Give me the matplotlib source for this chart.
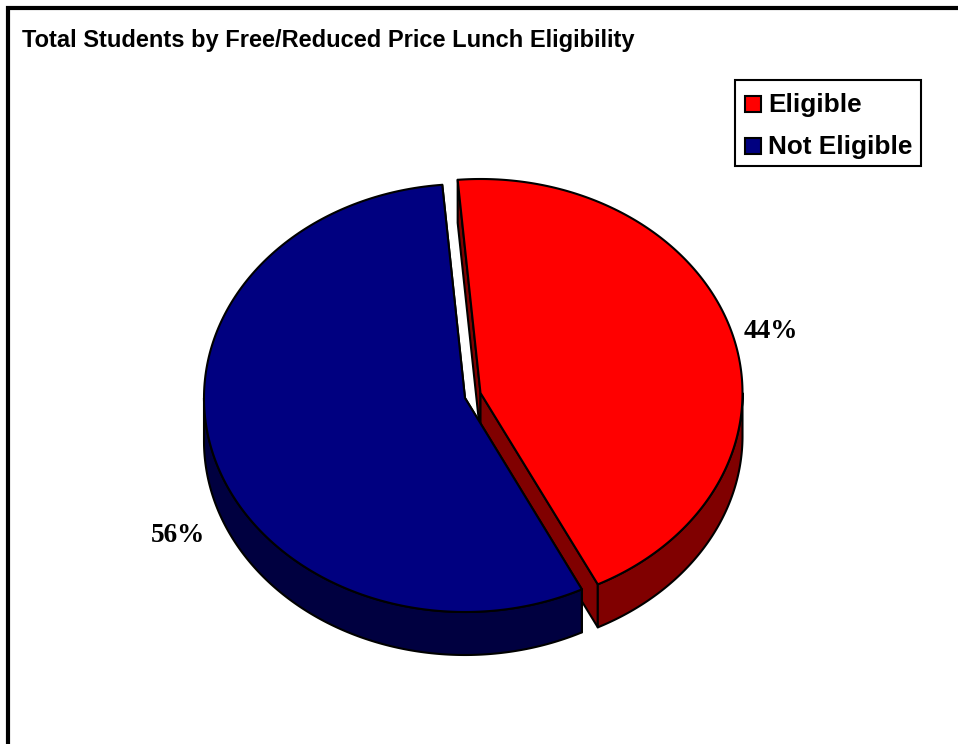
import numpy as np
import matplotlib
matplotlib.use("Agg")
import matplotlib.pyplot as plt
from matplotlib.patches import Polygon, Rectangle

title = "Total Students by Free/Reduced Price Lunch Eligibility"
categories = ["Eligible", "Not Eligible"]
shares = [44, 56]
pct_labels = ["44%", "56%"]
top_colors = ["#ff0000", "#000080"]
side_colors = ["#800000", "#000040"]

# pie layout, in pixels of the picture
centers = [(480.5, 393), (465, 398)]
radii_x = [262, 261]
ry = 214
depth = 43
start_angle = -5


def ellipse_pts(cx, cy, rx, a0, a1):
    t = np.radians(np.linspace(a0, a1, 200))
    return np.column_stack([cx + rx * np.sin(t), cy - ry * np.cos(t)])


fig = plt.figure(figsize=(9.58, 7.44), dpi=100)
ax = fig.add_axes([0, 0, 1, 1])
ax.set_xlim(0, 958)
ax.set_ylim(744, 0)
ax.axis("off")

# outer frame, only left and top edges are in the picture
ax.plot([8, 8, 970], [760, 8, 8], color="black", lw=3.0, solid_joinstyle="miter")

stroke = dict(edgecolor="black", lw=1.5, joinstyle="round")

# angles from the values
total = sum(shares)
a0 = start_angle
spans = []
for s in shares:
    a1 = a0 + 360 * s / total
    spans.append((a0, a1))
    a0 = a1

for i in range(len(shares)):
    cx, cy = centers[i]
    rx = radii_x[i]
    a, b = spans[i]
    apex = np.array([cx, cy])
    down = np.array([0, depth])
    arc = ellipse_pts(cx, cy, rx, a, b)

    # straight cut walls
    for p in (arc[0], arc[-1]):
        wall = np.array([apex, p, p + down, apex + down])
        ax.add_patch(Polygon(wall, facecolor=side_colors[i], zorder=2 + i * 2, **stroke))
    # rim wall, only the front part of the pie shows
    lo = max(a, 90)
    hi = min(b, 270)
    rim = ellipse_pts(cx, cy, rx, lo, hi)
    ax.add_patch(Polygon(np.vstack([rim, (rim + down)[::-1]]), facecolor=side_colors[i],
                         zorder=2 + i * 2, **stroke))
    # top face
    ax.add_patch(Polygon(np.vstack([apex, arc]), facecolor=top_colors[i],
                         zorder=3 + i * 2, **stroke))

ax.text(22, 40.5, title, fontfamily="Liberation Sans", fontweight="bold", fontsize=17,
        color="black", va="center", ha="left")

ax.text(771, 331.5, pct_labels[0], fontfamily="Liberation Serif", fontweight="bold",
        fontsize=19.5, ha="center", va="center")
ax.text(177.5, 535.5, pct_labels[1], fontfamily="Liberation Serif", fontweight="bold",
        fontsize=19.5, ha="center", va="center")

# legend
ax.add_patch(Rectangle((735, 79.5), 186.5, 86, facecolor="white", edgecolor="black", lw=1.5, zorder=8))
legend_y = [104, 146]
for i, name in enumerate(categories):
    ax.add_patch(Rectangle((745, legend_y[i] - 8), 16, 16, facecolor=top_colors[i],
                           edgecolor="black", lw=1.5, zorder=9))
    ax.text(768, legend_y[i] + 1, name, fontfamily="Liberation Sans", fontweight="bold",
            fontsize=18.8, va="center", ha="left", zorder=9)

fig.savefig("out.png", dpi=100)
